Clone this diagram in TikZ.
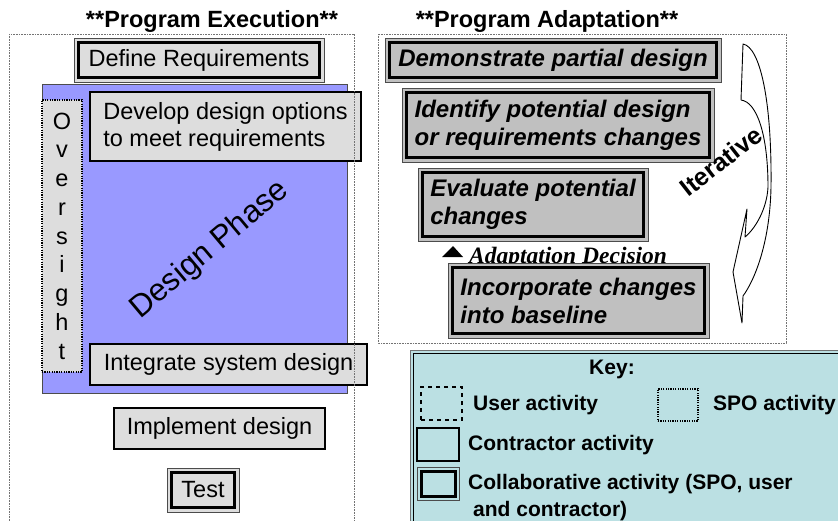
\documentclass[tikz,border=0pt]{standalone}
\usepackage{fontspec}
\setmainfont{Liberation Sans}
\newfontfamily\timesfont{Liberation Serif}
\usetikzlibrary{calc}
\definecolor{execgray}{HTML}{DDDDDD}
\definecolor{adaptgray}{HTML}{C0C0C0}
\definecolor{phaseblue}{HTML}{9999FF}
\definecolor{keycyan}{HTML}{BBE0E3}
\newcommand\boxfont{\fontsize{23.5}{27}\selectfont}
\newcommand\adaptfont{\fontsize{24}{28}\selectfont\bfseries\itshape}
\newcommand\keyfont{\fontsize{21}{27}\selectfont\bfseries}
\def\innerframe(#1:#2:#3){\draw[line width=#3] ($(#1.north west)+(#2,#2)$) rectangle ($(#1.south east)+(-#2,-#2)$);}
\tikzset{
  boxbase/.style={rectangle, outer sep=0pt, inner sep=0pt, align=left},
  contractor/.style={boxbase, draw=black, line width=1.3pt, fill=execgray, font=\boxfont},
  spo/.style={boxbase, draw=black, line width=1.3pt, dash pattern=on 1.2pt off 1.2pt},
  collab/.style={boxbase, draw=black!70, line width=0.8pt},
  adapt/.style={collab, fill=adaptgray, font=\adaptfont},
  frame/.style={draw=black!55, line width=0.8pt, dash pattern=on 0.8pt off 0.8pt},
}

\begin{document}
\begin{tikzpicture}[x=1pt, y=-1pt]
  \useasboundingbox (0,0) rectangle (838,520);
  \fill[white] (0,0) rectangle (838,520);
  %%%%% EXECUTION %%%%%
  \node[anchor=base, font=\fontsize{23.5}{23.5}\selectfont\bfseries] (exectitle) at (212,27) {**Program Execution**};
  \node[boxbase, draw=black!70, line width=1pt, fill=phaseblue, minimum width=305pt, minimum height=309pt] (phase) at (194.5,238.5) {};
  \node[rotate=40, font=\fontsize{31.5}{31.5}\selectfont] (phaselabel) at (210,250) {Design Phase};

  \node[collab, fill=execgray, font=\boxfont, minimum width=250pt, minimum height=44pt] (defreq) at (199,60) {Define Requirements};
  \innerframe(defreq:4.5:3.2pt)
  \node[spo, fill=execgray, font=\fontsize{23.5}{28.75}\selectfont, align=center, minimum width=40pt, minimum height=272pt] (oversight) at (62,236) {O\\v\\e\\r\\s\\i\\g\\h\\t};
  \node[contractor, minimum width=271pt, minimum height=69pt] (develop) at (225.5,126.5) {Develop design options\\to meet requirements};
  \node[contractor, minimum width=277pt, minimum height=41pt] (integrate) at (228.5,364.5) {Integrate system design};
  \node[contractor, minimum width=211pt, minimum height=41pt] (implement) at (219.5,428.5) {Implement design};
  \node[collab, fill=execgray, font=\boxfont, minimum width=72pt, minimum height=44pt] (test) at (203,490) {Test};
  \innerframe(test:4.5:3.2pt)

  %%%%% ADAPTATION %%%%%
  \node[anchor=base, font=\fontsize{23.5}{23.5}\selectfont\bfseries] (adapttitle) at (547,27) {**Program Adaptation**};
  \node[adapt, minimum width=336pt, minimum height=44pt] (demo) at (553,60) {Demonstrate partial design};
  \innerframe(demo:4.5:3.2pt)
  \node[adapt, minimum width=312pt, minimum height=74pt] (identify) at (558,125) {Identify potential design\\or requirements changes};
  \innerframe(identify:4.5:3.2pt)
  \node[adapt, minimum width=230pt, minimum height=73pt] (evaluate) at (533,204.5) {Evaluate potential\\changes};
  \innerframe(evaluate:4.5:3.2pt)
  \fill (442,257) -- (463,257) -- (453,246) -- cycle;
  \node[anchor=base west, font=\timesfont\fontsize{23.5}{23.5}\selectfont\bfseries\itshape, inner sep=0pt] (decision) at (469,263) {Adaptation Decision};
  \node[adapt, minimum width=261pt, minimum height=75pt] (incorp) at (578.5,300.5) {Incorporate changes\\into baseline};
  \innerframe(incorp:4.5:3.2pt)

  \draw[line width=0.9pt, line join=round] (743,44) .. controls (760,47) and (772,100) .. (771,187)
    .. controls (770,240) and (756,278) .. (743,296) -- (742,323) -- (733,272) -- (747,209) -- (745,237)
    .. controls (756,228) and (767,208) .. (768,187) .. controls (768,135) and (757,102) .. (741,100) -- cycle;
  \node[rotate=38, font=\fontsize{25}{25}\selectfont\bfseries] (iter) at (721,161) {Iterative};

  \draw[frame] (9,34) rectangle (354,540);
  \draw[frame] (378,34) rectangle (786,343);

  %%%%% KEY %%%%%
  \node[boxbase, draw=black!55, line width=1pt, fill=keycyan, minimum width=440pt, minimum height=190pt, anchor=north west] (key) at (410,350) {};
  \innerframe(key:3:1pt)
  \node[font=\keyfont] (keytitle) at (612,369) {Key:};
  \node[boxbase, draw, line width=1.3pt, dash pattern=on 4pt off 4pt, minimum width=41pt, minimum height=33pt] (keyuser) at (441.5,403.5) {};
  \node[font=\keyfont, anchor=west, inner sep=0pt] (keyusertext) at (473,405) {User activity};
  \node[spo, minimum width=40pt, minimum height=32pt] (keyspo) at (678,405) {};
  \node[font=\keyfont, anchor=west, inner sep=0pt] (keyspotext) at (713,405) {SPO activity};
  \node[boxbase, draw, line width=1.3pt, minimum width=42pt, minimum height=33pt] (keycon) at (438,444.5) {};
  \node[font=\keyfont, anchor=west, inner sep=0pt] (keycontext) at (468,445) {Contractor activity};
  \node[collab, minimum width=42pt, minimum height=33pt] (keycol) at (438,483.5) {};
  \innerframe(keycol:4:3pt)
  \node[font=\keyfont, anchor=west, inner sep=0pt, align=left] (keycoltext) at (468,498) {Collaborative activity (SPO, user\\\hspace{5pt}and contractor)};
\end{tikzpicture}
\end{document}
